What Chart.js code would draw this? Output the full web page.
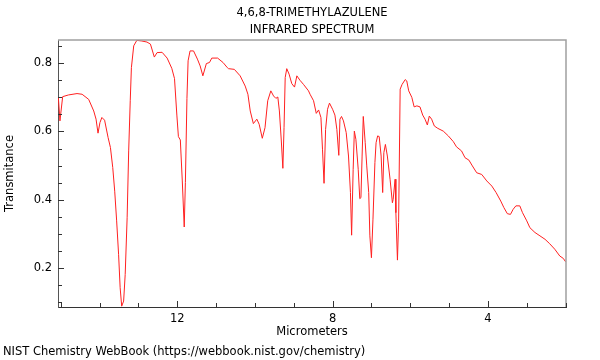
<!DOCTYPE html>
<html>
<head>
<meta charset="utf-8">
<script src="https://cdn.jsdelivr.net/npm/chart.js@4"></script>
<style>
  html, body { margin: 0; padding: 0; background: #fff; }
</style>
</head>
<body>
<canvas id="irChart" width="600" height="360"></canvas>
<script>
const titleLines = ["4,6,8-TRIMETHYLAZULENE", "INFRARED SPECTRUM"];
const footerText = "NIST Chemistry WebBook (https://webbook.nist.gov/chemistry)";

// micrometers left to right
const wavelengths = [
  15.06, 15.02, 14.95, 14.80, 14.58, 14.45, 14.28, 14.15, 14.09, 14.04,
  13.99, 13.94, 13.87, 13.78, 13.72, 13.66, 13.61, 13.56, 13.51, 13.47,
  13.43, 13.38, 13.34, 13.29, 13.25, 13.21, 13.18, 13.12, 13.04, 12.91,
  12.78, 12.69, 12.59, 12.52, 12.39, 12.26, 12.14, 12.07, 12.01, 11.97,
  11.92, 11.87, 11.82, 11.79, 11.75, 11.72, 11.67, 11.58, 11.48, 11.41,
  11.34, 11.25, 11.17, 11.11, 10.96, 10.82, 10.71, 10.68, 10.53, 10.38,
  10.25, 10.18, 10.12, 10.04, 9.95, 9.89, 9.81, 9.74, 9.67, 9.59,
  9.52, 9.46, 9.41, 9.37, 9.32, 9.28, 9.25, 9.22, 9.18, 9.12,
  9.05, 8.98, 8.92, 8.84, 8.75, 8.62, 8.58, 8.49, 8.42, 8.36,
  8.30, 8.26, 8.22, 8.18, 8.13, 8.08, 8.00, 7.94, 7.89, 7.84,
  7.81, 7.77, 7.72, 7.65, 7.59, 7.54, 7.51, 7.47, 7.44, 7.40,
  7.34, 7.30, 7.27, 7.24, 7.21, 7.16, 7.12, 7.07, 7.04, 7.00,
  6.96, 6.91, 6.88, 6.84, 6.80, 6.75, 6.71, 6.68, 6.64, 6.59,
  6.52, 6.46, 6.44, 6.39, 6.37, 6.33, 6.30, 6.26, 6.21, 6.13,
  6.09, 6.04, 5.96, 5.90, 5.83, 5.75, 5.68, 5.62, 5.56, 5.51,
  5.45, 5.38, 5.29, 5.15, 5.02, 4.89, 4.81, 4.68, 4.59, 4.49,
  4.40, 4.29, 4.16, 4.03, 3.90, 3.79, 3.67, 3.59, 3.50, 3.42,
  3.35, 3.28, 3.18, 3.11, 3.00, 2.92, 2.79, 2.66, 2.53, 2.41,
  2.28, 2.15, 2.06, 2.00
];
const transmittance = [
  0.699, 0.631, 0.702, 0.707, 0.711, 0.709, 0.694, 0.660, 0.636, 0.595,
  0.626, 0.641, 0.633, 0.582, 0.553, 0.494, 0.425, 0.338, 0.240, 0.142,
  0.088, 0.103, 0.181, 0.347, 0.543, 0.690, 0.787, 0.851, 0.867, 0.865,
  0.862, 0.856, 0.818, 0.831, 0.832, 0.815, 0.785, 0.755, 0.648, 0.585,
  0.575, 0.455, 0.320, 0.450, 0.697, 0.807, 0.836, 0.836, 0.812, 0.792,
  0.763, 0.799, 0.802, 0.815, 0.815, 0.802, 0.787, 0.784, 0.782, 0.763,
  0.733, 0.709, 0.660, 0.623, 0.636, 0.621, 0.580, 0.611, 0.690, 0.719,
  0.704, 0.697, 0.701, 0.660, 0.572, 0.492, 0.611, 0.758, 0.784, 0.768,
  0.740, 0.730, 0.763, 0.750, 0.738, 0.719, 0.709, 0.690, 0.653, 0.663,
  0.641, 0.548, 0.448, 0.606, 0.665, 0.683, 0.665, 0.648, 0.606, 0.530,
  0.636, 0.644, 0.631, 0.597, 0.528, 0.421, 0.296, 0.489, 0.601, 0.577,
  0.489, 0.403, 0.406, 0.528, 0.644, 0.567, 0.499, 0.421, 0.294, 0.230,
  0.343, 0.509, 0.567, 0.587, 0.585, 0.528, 0.421, 0.538, 0.562, 0.528,
  0.460, 0.391, 0.401, 0.460, 0.362, 0.223, 0.333, 0.724, 0.738, 0.752,
  0.748, 0.719, 0.700, 0.672, 0.675, 0.672, 0.648, 0.636, 0.619, 0.645,
  0.636, 0.616, 0.609, 0.601, 0.587, 0.570, 0.555, 0.543, 0.523, 0.516,
  0.499, 0.479, 0.474, 0.455, 0.440, 0.421, 0.396, 0.377, 0.359, 0.357,
  0.372, 0.382, 0.382, 0.362, 0.338, 0.318, 0.304, 0.294, 0.284, 0.271,
  0.255, 0.235, 0.228, 0.218
];

const xTickLabels = [4, 8, 12];
const yTickLabels = [0.2, 0.4, 0.6, 0.8];

const FONT = '"DejaVu Sans", sans-serif';
const FONT_SIZE = 11.5;
Chart.defaults.font.family = FONT;
Chart.defaults.font.size = FONT_SIZE;
Chart.defaults.color = "#000";

function isLabeled(list, v) {
  return list.some(t => Math.abs(t - v) < 1e-6);
}

// inward tick marks, frame and the free text
const decorations = {
  id: "decorations",
  afterDraw(chart) {
    const { ctx, chartArea: a, scales } = chart;
    ctx.save();

    ctx.strokeStyle = "#a0a0a0";
    ctx.lineWidth = 1.5;
    ctx.beginPath();
    ctx.moveTo(a.left, a.top);
    ctx.lineTo(a.right, a.top);
    ctx.lineTo(a.right, a.bottom);
    ctx.stroke();

    ctx.strokeStyle = "#333";
    ctx.lineWidth = 1;
    ctx.beginPath();
    scales.x.ticks.forEach(t => {
      const px = Math.round(scales.x.getPixelForValue(t.value)) + 0.5;
      const len = isLabeled(xTickLabels, t.value) ? 6 : 4;
      ctx.moveTo(px, a.bottom);
      ctx.lineTo(px, a.bottom - len);
    });
    scales.y.ticks.forEach(t => {
      const py = Math.round(scales.y.getPixelForValue(t.value)) + 0.5;
      const len = isLabeled(yTickLabels, t.value) ? 6 : 4;
      ctx.moveTo(a.left, py);
      ctx.lineTo(a.left + len, py);
    });
    ctx.stroke();

    ctx.fillStyle = "#000";
    ctx.font = FONT_SIZE + "px " + FONT;
    ctx.textBaseline = "middle";
    ctx.textAlign = "center";
    const cx = (a.left + a.right) / 2;
    ctx.fillText(titleLines[0], cx, 13);
    ctx.fillText(titleLines[1], cx, 30);
    ctx.textAlign = "left";
    ctx.fillText(footerText, 3, 352);
    ctx.restore();
  }
};

const points = wavelengths.map((w, i) => ({ x: w, y: transmittance[i] }));

new Chart(document.getElementById("irChart"), {
  type: "line",
  data: {
    datasets: [{
      data: points,
      borderColor: "#ff2020",
      borderWidth: 1,
      pointRadius: 0,
      tension: 0,
      fill: false
    }]
  },
  options: {
    responsive: false,
    animation: false,
    layout: { padding: { top: 40, right: 34, left: 0, bottom: 0 } },
    plugins: {
      legend: { display: false },
      tooltip: { enabled: false },
      title: { display: false }
    },
    scales: {
      x: {
        type: "linear",
        reverse: true,
        min: 1.99,
        max: 15.07,
        grid: { display: false, drawTicks: false },
        border: { display: true, color: "#333", width: 1 },
        ticks: {
          stepSize: 1,
          autoSkip: false,
          includeBounds: false,
          maxRotation: 0,
          padding: 5,
          callback: v => isLabeled(xTickLabels, v) ? String(v) : ""
        },
        title: {
          display: true,
          text: "Micrometers",
          padding: { top: 0, bottom: 21 }
        },
        afterFit: s => { s.height = 53; }
      },
      y: {
        min: 0.0856,
        max: 0.868,
        grid: { display: false, drawTicks: false },
        border: { display: true, color: "#555", width: 1 },
        ticks: {
          stepSize: 0.05,
          autoSkip: false,
          includeBounds: false,
          padding: 6,
          callback: v => isLabeled(yTickLabels, v) ? v.toFixed(1) : ""
        },
        title: {
          display: true,
          text: "Transmitance",
          padding: { top: 3, bottom: 0 }
        },
        afterFit: s => { s.width = 58; }
      }
    }
  },
  plugins: [decorations]
});
</script>
</body>
</html>
